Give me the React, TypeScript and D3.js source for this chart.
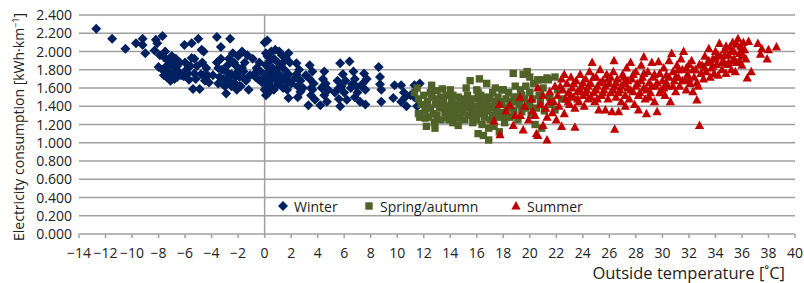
import React from 'react';
import * as d3 from 'd3';

// temperature [°C], consumption [kWh/km]
const winter: [number, number][] = [
  [-12.7, 2.25], [-11.5, 2.14], [-10.5, 2.03], [-9.7, 2.09], [-9.2, 2.14], [-9.2, 2.07], [-9.0, 1.98],
  [-8.3, 2.01], [-8.2, 2.13], [-8.1, 2.09], [-8.0, 1.83], [-7.9, 1.96], [-7.7, 1.8], [-7.7, 2.17], [-7.6, 1.94], [-7.5, 2.0],
  [-7.4, 1.72], [-7.3, 1.78], [-7.3, 1.9], [-7.2, 1.86], [-7.1, 1.68], [-7.0, 1.75], [-7.0, 1.95], [-6.9, 1.86],
  [-6.8, 1.7], [-6.8, 1.82], [-6.7, 1.92], [-6.6, 1.72], [-6.5, 1.78], [-6.4, 1.88],
  [-7.6, 1.74], [-7.4, 1.84], [-7.2, 1.76], [-6.9, 1.74], [-6.6, 1.84], [-6.3, 1.74],
  [-6.1, 1.73], [-6.05, 2.07], [-6.0, 1.88], [-5.9, 1.8], [-5.8, 1.76], [-5.7, 1.69], [-5.6, 1.84], [-5.5, 2.09],
  [-5.5, 1.93], [-5.4, 1.59], [-5.3, 1.92], [-5.3, 1.76], [-5.2, 1.7], [-5.1, 1.84], [-5.0, 2.14], [-4.9, 1.59], [-4.8, 1.75],
  [-4.75, 2.02], [-4.7, 1.88], [-4.6, 2.0], [-4.6, 1.74], [-4.5, 1.68], [-4.4, 1.82], [-4.3, 1.74], [-4.2, 1.66],
  [-3.9, 1.74], [-3.6, 2.16], [-3.6, 1.88], [-3.5, 1.65], [-3.5, 1.82], [-3.4, 1.72], [-3.3, 2.05], [-3.3, 1.92], [-3.2, 1.8], [-3.1, 1.7],
  [-3.0, 1.62], [-2.9, 1.54], [-2.9, 1.78], [-2.8, 1.7], [-2.8, 1.85], [-2.7, 1.92], [-2.6, 2.14], [-2.6, 1.65], [-2.5, 1.75],
  [-2.5, 1.62], [-2.4, 1.98], [-2.3, 1.66], [-2.3, 1.88], [-2.2, 1.85], [-2.2, 1.72], [-2.1, 1.58], [-2.0, 1.95], [-2.0, 1.78], [-1.9, 1.72],
  [-1.9, 1.62], [-1.8, 1.62], [-1.7, 2.0], [-1.7, 1.82], [-1.6, 1.78], [-1.5, 1.88], [-1.5, 1.7], [-1.4, 1.68],
  [-1.3, 1.96], [-1.2, 1.58], [-1.1, 1.74], [-0.9, 1.92], [-0.8, 1.75], [-0.7, 1.72], [-0.6, 1.82], [-0.5, 1.7], [-0.4, 1.88], [-0.3, 1.78],
  [-0.2, 1.66], [0.0, 2.1], [0.0, 1.72], [0.0, 1.58], [0.1, 1.85], [0.1, 1.52], [0.1, 1.98], [0.2, 2.12], [0.2, 1.95], [0.2, 1.65], [0.3, 1.78],
  [0.3, 1.55], [0.4, 1.9], [0.4, 1.68], [0.5, 2.0], [0.5, 1.7], [0.5, 1.62], [0.6, 1.82], [0.6, 1.74], [0.7, 1.92], [0.7, 1.58], [0.8, 2.02],
  [0.8, 1.74], [0.9, 1.68], [0.9, 1.8], [1.0, 1.88], [1.0, 1.76], [1.0, 1.64], [1.1, 2.0], [1.2, 1.85], [1.2, 1.68], [1.3, 1.96], [1.3, 1.72],
  [1.4, 1.6], [1.4, 1.88], [1.5, 1.8], [1.6, 1.93], [1.6, 1.7], [1.7, 1.58], [1.7, 1.66], [1.8, 1.98], [1.8, 1.75], [1.8, 1.49], [1.9, 1.88], [2.0, 1.65],
  [2.2, 1.7], [2.4, 1.87], [2.4, 1.75], [2.5, 1.62], [2.5, 1.5], [2.6, 1.8], [2.6, 1.7], [2.7, 1.68], [2.7, 1.56], [2.9, 1.6], [3.1, 1.74],
  [3.3, 1.41], [3.4, 1.85], [3.4, 1.7], [3.5, 1.6], [3.5, 1.52], [3.6, 1.78], [3.6, 1.58], [3.7, 1.65], [3.8, 1.47],
  [4.2, 1.41], [4.3, 1.6], [4.4, 1.7], [4.4, 1.62], [4.5, 1.78], [4.5, 1.52], [4.6, 1.65], [4.7, 1.45], [4.8, 1.58],
  [5.3, 1.55], [5.5, 1.68], [5.6, 1.48], [5.6, 1.6], [5.7, 1.87], [5.7, 1.4], [5.8, 1.62], [5.9, 1.75], [6.0, 1.55], [6.1, 1.68],
  [6.2, 1.47], [6.4, 1.89], [6.5, 1.6], [6.6, 1.64], [6.7, 1.78], [6.8, 1.7], [6.8, 1.5], [6.9, 1.62], [7.0, 1.55], [7.2, 1.45],
  [7.3, 1.62], [7.4, 1.65], [7.5, 1.76], [7.6, 1.42], [7.6, 1.58], [7.7, 1.7],
  [8.6, 1.83], [8.7, 1.64], [8.7, 1.72], [8.8, 1.45], [8.8, 1.58],
  [9.7, 1.49], [9.8, 1.63], [10.3, 1.63], [10.3, 1.45], [10.5, 1.55], [10.6, 1.5], [10.7, 1.4], [11.0, 1.52],
  [11.3, 1.5], [11.3, 1.63], [11.5, 1.4], [11.7, 1.65],
];

const springAutumn: [number, number][] = [
  [11.3, 1.55], [11.5, 1.6], [11.6, 1.32], [11.6, 1.48], [11.7, 1.28], [11.8, 1.42], [12.0, 1.52], [12.1, 1.35],
  [12.1, 1.27], [12.2, 1.18], [12.2, 1.4], [12.3, 1.45], [12.4, 1.28], [12.5, 1.38], [12.5, 1.55], [12.6, 1.63],
  [12.6, 1.5], [12.7, 1.32], [12.8, 1.22], [12.85, 1.16], [12.9, 1.42], [13.0, 1.3], [13.0, 1.45], [13.0, 1.57],
  [13.1, 1.48], [13.2, 1.38], [13.3, 1.25], [13.3, 1.5], [13.4, 1.59], [13.5, 1.44], [13.6, 1.33], [13.6, 1.4],
  [13.7, 1.52], [13.8, 1.28], [13.9, 1.4], [13.9, 1.25], [14.0, 1.35], [14.0, 1.58], [14.1, 1.47], [14.2, 1.22],
  [14.2, 1.52], [14.3, 1.3], [14.4, 1.42], [14.5, 1.36], [14.5, 1.28], [14.6, 1.19], [14.6, 1.5], [14.7, 1.27],
  [14.8, 1.4], [14.8, 1.48], [14.9, 1.33], [15.0, 1.45], [15.1, 1.25], [15.1, 1.4], [15.2, 1.38], [15.2, 1.6],
  [15.3, 1.52], [15.4, 1.3], [15.4, 1.46], [15.5, 1.68], [15.5, 1.42], [15.6, 1.35], [15.7, 1.22], [15.7, 1.32],
  [15.8, 1.48], [15.9, 1.28], [16.0, 1.4], [16.0, 1.25], [16.0, 1.58], [16.1, 1.1], [16.1, 1.55], [16.2, 1.7],
  [16.2, 1.32], [16.3, 1.45], [16.3, 1.52], [16.4, 1.2], [16.4, 1.38], [16.5, 1.08], [16.5, 1.5], [16.6, 1.28],
  [16.6, 1.36], [16.7, 1.42], [16.75, 1.65], [16.8, 1.35], [16.9, 1.03], [16.9, 1.16], [16.9, 1.48], [17.0, 1.25],
  [17.0, 1.5], [17.1, 1.4], [17.2, 1.55], [17.2, 1.3], [17.3, 1.18], [17.3, 1.38], [17.4, 1.45], [17.4, 1.6],
  [17.5, 1.36], [17.6, 1.5], [17.6, 1.32], [17.7, 1.12], [17.7, 1.28], [17.8, 1.42], [17.9, 1.58], [17.9, 1.45],
  [18.0, 1.33], [18.0, 1.58], [18.1, 1.22], [18.2, 1.48], [18.2, 1.3], [18.3, 1.38], [18.4, 1.55], [18.5, 1.28],
  [18.5, 1.4], [18.6, 1.45], [18.75, 1.76], [18.8, 1.35], [18.8, 1.5], [18.9, 1.62], [19.0, 1.5], [19.1, 1.25],
  [19.1, 1.45], [19.2, 1.42], [19.3, 1.58], [19.4, 1.34], [19.4, 1.52], [19.5, 1.75], [19.6, 1.48], [19.7, 1.62],
  [19.7, 1.38], [19.8, 1.78], [19.9, 1.4], [20.0, 1.72], [20.0, 1.55], [20.0, 1.42], [20.1, 1.3], [20.2, 1.48],
  [20.3, 1.65], [20.4, 1.2], [20.5, 1.38], [20.6, 1.69], [20.7, 1.52], [20.8, 1.45], [20.9, 1.16], [20.9, 1.69],
  [21.0, 1.6], [21.1, 1.35], [21.3, 1.71], [21.4, 1.69], [21.5, 1.5], [21.6, 1.42], [21.9, 1.72], [21.9, 1.36],
  [22.1, 1.58], [22.4, 1.48],
];

const summer: [number, number][] = [
  [17.3, 1.24], [17.7, 1.42], [17.75, 1.09], [18.2, 1.35], [18.5, 1.41], [18.75, 1.19], [18.9, 1.3], [19.26, 1.5],
  [19.3, 1.3], [19.5, 1.14], [19.6, 1.4], [19.9, 1.25], [20.1, 1.48], [20.2, 1.35], [20.4, 1.3], [20.5, 1.1],
  [20.6, 1.6], [20.6, 1.08], [20.8, 1.42], [21.0, 1.19], [21.0, 1.52], [21.2, 1.38], [21.3, 1.03], [21.3, 1.28],
  [21.5, 1.56], [21.5, 1.45], [21.7, 1.33], [21.8, 1.45], [21.9, 1.62], [22.0, 1.25], [22.1, 1.52], [22.2, 1.4],
  [22.3, 1.62], [22.4, 1.18], [22.4, 1.7], [22.5, 1.58], [22.6, 1.32], [22.6, 1.75], [22.7, 1.48],
  [22.8, 1.65], [22.9, 1.55], [22.9, 1.45], [23.0, 1.42], [23.1, 1.72], [23.1, 1.52], [23.2, 1.6], [23.3, 1.5],
  [23.3, 1.65], [23.4, 1.17], [23.4, 1.38], [23.5, 1.68], [23.6, 1.56], [23.6, 1.48], [23.7, 1.45], [23.8, 1.75],
  [23.8, 1.58], [23.9, 1.62], [24.0, 1.52], [24.0, 1.66], [24.1, 1.4], [24.2, 1.7], [24.2, 1.55], [24.3, 1.58],
  [24.4, 1.48], [24.4, 1.62], [24.5, 1.78], [24.6, 1.65], [24.6, 1.5], [24.7, 1.88], [24.8, 1.55], [24.8, 1.72],
  [24.9, 1.45], [25.0, 1.72], [25.0, 1.58], [25.1, 1.62], [25.1, 1.48], [25.2, 1.36], [25.3, 1.8], [25.3, 1.66],
  [25.4, 1.52], [25.5, 1.68], [25.5, 1.55], [25.6, 1.58], [25.7, 1.36], [25.7, 1.62], [25.8, 1.75], [25.9, 1.48], [25.9, 1.7],
  [26.0, 1.65], [26.1, 1.55], [26.1, 1.72], [26.2, 1.34], [26.3, 1.78], [26.3, 1.58], [26.35, 1.9], [26.4, 1.15],
  [26.4, 1.62], [26.5, 1.5], [26.5, 1.66], [26.6, 1.7], [26.7, 1.34], [26.7, 1.55], [26.8, 1.58], [26.9, 1.45],
  [26.9, 1.62], [27.0, 1.75], [27.1, 1.65], [27.1, 1.72], [27.2, 1.52], [27.2, 1.4], [27.3, 1.82], [27.4, 1.6],
  [27.4, 1.68], [27.5, 1.48], [27.6, 1.88], [27.6, 1.58], [27.7, 1.7], [27.8, 1.56], [27.8, 1.75], [27.9, 1.42],
  [28.0, 1.78], [28.0, 1.62], [28.1, 1.65], [28.2, 1.36], [28.2, 1.52], [28.3, 1.55], [28.4, 1.85], [28.4, 1.68],
  [28.5, 1.72], [28.6, 1.94], [28.6, 1.6], [28.6, 1.76], [28.7, 1.48], [28.8, 1.32], [28.8, 1.58], [28.9, 1.78],
  [29.0, 1.66], [29.0, 1.5], [29.1, 1.55], [29.2, 1.88], [29.2, 1.62], [29.3, 1.72], [29.4, 1.45], [29.4, 1.75],
  [29.5, 1.62], [29.6, 1.34], [29.6, 1.66], [29.7, 1.89], [29.8, 1.76], [29.8, 1.55], [29.9, 1.58],
  [30.0, 1.68], [30.1, 1.82], [30.1, 1.6], [30.2, 1.52], [30.3, 1.74], [30.3, 1.66], [30.4, 1.62], [30.5, 1.9],
  [30.5, 1.72], [30.6, 1.45], [30.7, 1.98], [30.8, 1.78], [30.8, 1.62], [30.9, 1.68], [31.0, 1.56], [31.0, 1.72],
  [31.1, 1.85], [31.2, 1.72], [31.2, 1.8], [31.3, 1.62], [31.4, 1.92], [31.5, 1.8], [31.5, 1.68], [31.6, 2.0],
  [31.7, 1.68], [31.8, 1.58], [31.8, 1.82], [31.9, 1.75], [32.0, 1.86], [32.0, 1.7], [32.1, 1.65], [32.2, 1.9],
  [32.3, 1.56], [32.3, 1.8], [32.4, 1.72], [32.5, 1.8], [32.6, 1.47], [32.6, 1.66], [32.7, 1.62], [32.8, 1.19],
  [32.8, 1.86], [32.9, 1.76],
  [33.0, 1.85], [33.1, 1.7], [33.2, 1.95], [33.2, 1.82], [33.3, 1.78], [33.4, 1.88], [33.5, 2.03], [33.5, 1.9],
  [33.6, 1.72], [33.7, 1.82], [33.8, 1.92], [33.8, 1.84], [33.9, 1.76], [34.0, 2.0], [34.0, 1.92], [34.1, 1.86],
  [34.2, 1.74], [34.2, 1.96], [34.3, 2.09], [34.4, 1.95], [34.5, 1.8], [34.5, 1.88], [34.6, 1.9], [34.7, 2.02],
  [34.7, 1.96], [34.8, 1.76], [34.8, 2.06], [34.9, 1.86], [35.0, 1.96], [35.0, 1.88], [35.1, 2.05], [35.2, 1.8],
  [35.2, 2.0], [35.3, 1.9], [35.3, 2.1], [35.4, 2.0], [35.4, 1.92], [35.5, 1.78], [35.6, 1.88], [35.6, 2.08],
  [35.7, 2.14], [35.8, 1.98], [35.8, 1.9], [35.9, 2.06], [36.0, 1.85], [36.0, 2.02], [36.1, 1.95], [36.1, 2.1],
  [36.2, 2.02], [36.3, 1.92], [36.4, 1.71], [36.5, 2.11], [36.7, 1.78], [37.2, 2.09], [37.4, 1.97], [37.5, 2.03],
  [37.9, 1.92], [38.0, 2.02], [38.6, 2.05],
];

const xTicks = [-14, -12, -10, -8, -6, -4, -2, 0, 2, 4, 6, 8, 10, 12, 14, 16, 18, 20, 22, 24, 26, 28, 30, 32, 34, 36, 38, 40];
const yTicks = [0, 0.2, 0.4, 0.6, 0.8, 1.0, 1.2, 1.4, 1.6, 1.8, 2.0, 2.2, 2.4];
const seriesNames = ['Winter', 'Spring/autumn', 'Summer'];
const colors = ['#002060', '#4f6228', '#c00000'];

const W = 804;
const H = 283;
const margin = { top: 15, right: 9, bottom: 49, left: 79 };
const font = '"Open Sans", "Noto Sans", sans-serif';

const diamond = 'M0,-5L5,0L0,5L-5,0Z';
const square = 'M-3.7,-3.7H3.7V3.7H-3.7Z';
const triangle = 'M0,-4.9L4.6,3.6H-4.6Z';
const shapes = [diamond, square, triangle];

const fmtX = (v: number) => (v < 0 ? '\u2212' + Math.abs(v) : String(v));

const App: React.FC = () => {
  const x = d3.scaleLinear().domain([-14, 40]).range([margin.left, W - margin.right]);
  const y = d3.scaleLinear().domain([0, 2.4]).range([H - margin.bottom, margin.top]);
  const all = [winter, springAutumn, summer];

  return (
    <svg width={W} height={H} style={{ position: 'absolute', left: 0, top: 0, fontFamily: font }}>
      <rect width={W} height={H} fill="#fff" />
      {/* horizontal grid */}
      {yTicks.map(t => (
        <line key={t} x1={x(-14)} x2={x(40)} y1={y(t)} y2={y(t)} stroke="#a0a0a0" strokeWidth={1.5} />
      ))}
      {/* y axis at 0 */}
      <line x1={x(0)} x2={x(0)} y1={y(2.4)} y2={y(0)} stroke="#a0a0a0" strokeWidth={1.5} />
      {xTicks.map(t => (
        <g key={t}>
          <line x1={x(t)} x2={x(t)} y1={y(0)} y2={y(0) + 4} stroke="#a0a0a0" strokeWidth={1.5} />
          <text x={x(t)} y={y(0) + 24} textAnchor="middle" fontSize={14} fill="#222">{fmtX(t)}</text>
        </g>
      ))}
      {yTicks.map(t => (
        <text key={t} x={72} y={y(t) + 5} textAnchor="end" fontSize={14} fill="#222">{t.toFixed(3)}</text>
      ))}

      {all.map((s, i) => (
        <g key={i} fill={colors[i]}>
          {s.map((d, j) => (
            <path key={j} d={shapes[i]} transform={`translate(${x(d[0])},${y(d[1])})`} />
          ))}
        </g>
      ))}

      {/* legend */}
      {[283, 369, 516].map((lx, i) => (
        <g key={i}>
          <path d={shapes[i]} fill={colors[i]} transform={`translate(${lx},206)`} />
          <text x={lx + 11} y={211.5} fontSize={14} fill="#222">{seriesNames[i]}</text>
        </g>
      ))}

      <text x={785} y={279} textAnchor="end" fontSize={16.5} fill="#222">Outside temperature [˚C]</text>
      <text transform="translate(24,127) rotate(-90)" textAnchor="middle" fontSize={14} fill="#222">
        Electricity consumption [kWh·km<tspan dy={-5} fontSize={9}>−1</tspan><tspan dy={5}>]</tspan>
      </text>
    </svg>
  );
};

export default App;
